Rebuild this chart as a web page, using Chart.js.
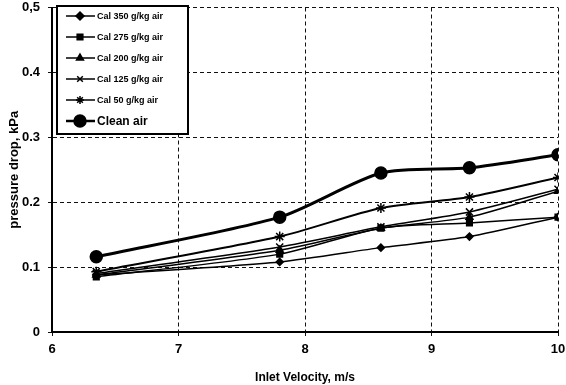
<!DOCTYPE html>
<html>
<head>
<meta charset="utf-8">
<script src="https://cdn.jsdelivr.net/npm/chart.js@4.4.1/dist/chart.umd.min.js"></script>
<style>
  html, body { margin: 0; padding: 0; background: #fff; }
  #wrap { width: 566px; height: 385px; }
</style>
</head>
<body>
<div id="wrap"><canvas id="pd" width="566" height="385"></canvas></div>
<script>
// inlet velocity, m/s
var velocity = [6.35, 7.8, 8.6, 9.3, 10];

// pressure drop, kPa
var cal350 = [0.088, 0.108, 0.130, 0.147, 0.177];
var cal275 = [0.085, 0.120, 0.160, 0.168, 0.177];
var cal200 = [0.088, 0.126, 0.160, 0.177, 0.217];
var cal125 = [0.090, 0.131, 0.162, 0.185, 0.220];
var cal50  = [0.093, 0.147, 0.191, 0.208, 0.238];
var clean  = [0.116, 0.177, 0.245, 0.253, 0.273];

var seriesNames = ['Cal 350 g/kg air', 'Cal 275 g/kg air', 'Cal 200 g/kg air',
                   'Cal 125 g/kg air', 'Cal 50 g/kg air', 'Clean air'];
var yTickLabels = { 0: '0', 1: '0.1', 2: '0.2', 3: '0.3', 4: '0.4', 5: '0,5' };

function pts(vals) {
  return vals.map(function (v, i) { return { x: velocity[i], y: v }; });
}

function series(name, vals, style, radius, width) {
  return {
    label: name,
    data: pts(vals),
    borderColor: '#000',
    backgroundColor: '#000',
    borderWidth: width,
    pointStyle: style,
    pointRadius: radius,
    pointBorderWidth: 1.5,
    tension: 0.25
  };
}

// boxed legend drawn inside the plot, top left
var boxLegend = {
  id: 'boxLegend',
  afterDraw: function (chart) {
    var ctx = chart.ctx;
    var x0 = 57, y0 = 6, w = 131, h = 128;
    ctx.save();
    ctx.fillStyle = '#fff';
    ctx.fillRect(x0, y0, w, h);
    ctx.strokeStyle = '#000';
    ctx.lineWidth = 2;
    ctx.strokeRect(x0, y0, w, h);
    chart.data.datasets.forEach(function (ds, i) {
      var y = 16 + i * 21;
      var big = i === 5;
      ctx.strokeStyle = '#000';
      ctx.fillStyle = '#000';
      ctx.lineWidth = big ? 2.5 : 1.5;
      ctx.beginPath();
      ctx.moveTo(66, y);
      ctx.lineTo(95, y);
      ctx.stroke();
      Chart.helpers.drawPoint(ctx, {
        pointStyle: ds.pointStyle,
        radius: big ? 5.5 : 4,
        borderWidth: 1.5,
        rotation: 0
      }, 80, y);
      ctx.font = big ? 'bold 12px "Liberation Sans", Arial, sans-serif'
                     : 'bold 9px "Liberation Sans Narrow", "Liberation Sans", Arial, sans-serif';
      ctx.textBaseline = 'middle';
      ctx.textAlign = 'left';
      ctx.fillText(ds.label, 97, y + 1);
    });
    ctx.restore();
  }
};

var ctx = document.getElementById('pd').getContext('2d');
var chart = new Chart(ctx, {
  type: 'line',
  data: {
    datasets: [
      series(seriesNames[0], cal350, 'rectRot', 3.5, 1.5),
      series(seriesNames[1], cal275, 'rect', 4, 1.5),
      series(seriesNames[2], cal200, 'triangle', 4, 1.5),
      series(seriesNames[3], cal125, 'crossRot', 5, 1.5),
      series(seriesNames[4], cal50, 'star', 5, 2),
      series(seriesNames[5], clean, 'circle', 6, 3)
    ]
  },
  plugins: [boxLegend],
  options: {
    responsive: false,
    animation: false,
    layout: { padding: { left: 0, right: 8, top: 7, bottom: 0 } },
    plugins: {
      legend: { display: false },
      tooltip: { enabled: false }
    },
    scales: {
      x: {
        type: 'linear',
        min: 6,
        max: 10,
        ticks: {
          stepSize: 1,
          color: '#000',
          padding: 6,
          font: { family: '"Liberation Sans", Arial, sans-serif', size: 13, weight: 'bold' }
        },
        grid: { color: '#111', lineWidth: 1, tickLength: 4 },
        border: { display: true, color: '#000', width: 2, dash: [4, 3] },
        title: {
          display: true,
          text: 'Inlet Velocity, m/s',
          color: '#000',
          padding: { top: 2, bottom: 0 },
          font: { family: '"Liberation Sans", Arial, sans-serif', size: 12, weight: 'bold' }
        },
        afterFit: function (s) { s.height = 53; s.paddingLeft = 0; s.paddingRight = 0; }
      },
      y: {
        min: 0,
        max: 0.5,
        ticks: {
          stepSize: 0.1,
          color: '#000',
          padding: 8,
          font: { family: '"Liberation Sans", Arial, sans-serif', size: 13, weight: 'bold' },
          callback: function (v) { return yTickLabels[Math.round(v * 10)]; }
        },
        grid: { color: '#111', lineWidth: 1, tickLength: 4 },
        border: { display: true, color: '#000', width: 2, dash: [4, 3] },
        title: {
          display: true,
          text: 'pressure drop, kPa',
          color: '#000',
          padding: { top: 7, bottom: 0 },
          font: { family: '"Liberation Sans", Arial, sans-serif', size: 13, weight: 'bold' }
        },
        afterFit: function (s) { s.width = 52; s.paddingTop = 0; s.paddingBottom = 0; }
      }
    }
  }
});
</script>
</body>
</html>
